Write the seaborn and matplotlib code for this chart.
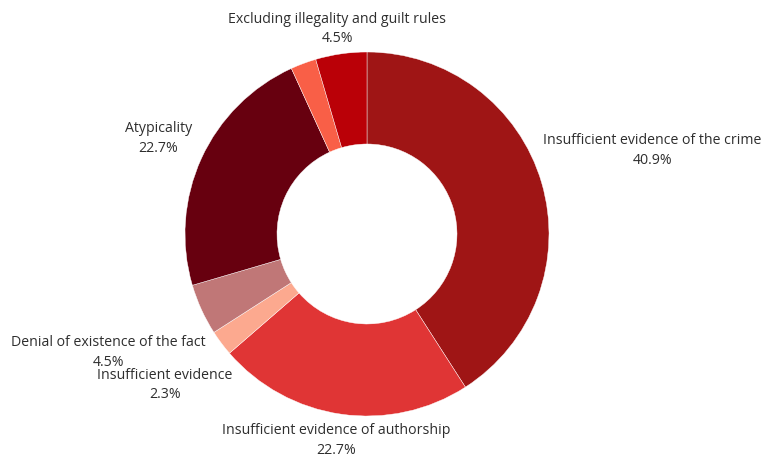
import matplotlib
matplotlib.use("Agg")
import matplotlib.pyplot as plt
import seaborn as sns

# Grounds for dismissal, case counts per category (clockwise from 12 o'clock)
categories = [
    "Insufficient evidence of the crime",
    "Insufficient evidence of authorship",
    "Insufficient evidence",
    "Denial of existence of the fact",
    "Atypicality",
    None,  # small slice whose label is suppressed
    "Excluding illegality and guilt rules",
]
counts = [18, 10, 1, 2, 10, 1, 2]
slice_colors = ["#9f1515", "#e03535", "#fca98f", "#c07777",
                "#67000f", "#f95f47", "#ba0007"]

# Label block centres in pixel space (x from left, y from top)
label_pos = [(652.5, 150.5), (336.5, 440.5), (165, 385), (108.5, 352.5),
             (158.5, 138.5), None, (337.5, 29)]

W, H = 765, 459
CX, CY = 367, 234          # donut centre (pixels, y from top)
R_OUT, RING = 182, 92      # outer radius and ring width (pixels)

sns.set_theme(style="white")
plt.rcParams["font.family"] = ["Open Sans", "DejaVu Sans"]

fig = plt.figure(figsize=(W / 100, H / 100), dpi=100)
ax = fig.add_axes([0, 0, 1, 1])
palette = sns.color_palette(slice_colors)

ax.pie(counts, colors=palette, startangle=90, counterclock=False,
       radius=R_OUT, center=(CX, H - CY),
       wedgeprops=dict(width=RING, edgecolor="#ffffff", linewidth=0.3))

ax.set_xlim(0, W)
ax.set_ylim(0, H)
ax.set_aspect("equal")
ax.axis("off")

total = sum(counts)
for name, n, pos in zip(categories, counts, label_pos):
    if name is None or pos is None:
        continue
    pct = n / total * 100
    ax.text(pos[0], H - pos[1], f"{name}\n{pct:.1f}%", ha="center",
            va="center", multialignment="center", fontsize=10.2,
            color="#2e2e2e", linespacing=1.4)

fig.savefig("out.png", dpi=100, facecolor="white")
